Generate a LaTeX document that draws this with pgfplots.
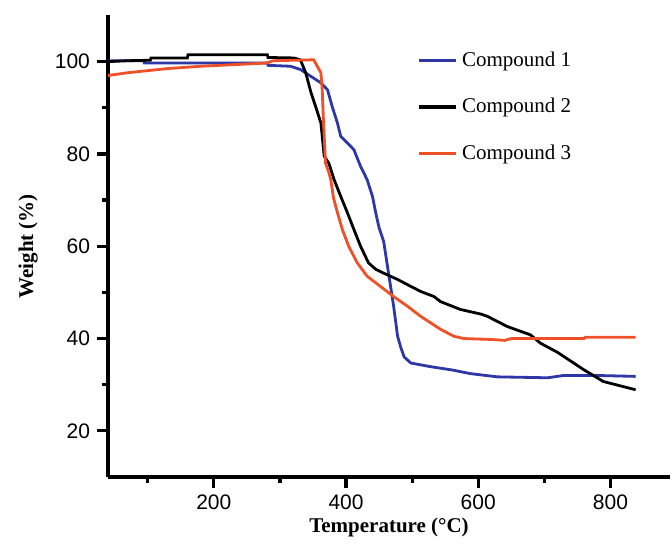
\documentclass[border=0pt]{standalone}
\usepackage{fontspec}
\setmainfont{Liberation Serif}
\newfontfamily\arialfont{Liberation Sans}
\usepackage{pgfplots}
\pgfplotsset{compat=1.18}
\definecolor{cpdblue}{RGB}{45,55,165}
\definecolor{cpdred}{RGB}{240,80,40}

\begin{document}
\begin{tikzpicture}
\useasboundingbox (-54pt,-34pt) rectangle (282pt,238.5pt);
\begin{axis}[
    at={(0,0)}, anchor=south west,
    scale only axis,
    width=281pt, height=230.75pt,
    xmin=40, xmax=890,
    ymin=10, ymax=110,
    axis x line*=bottom,
    axis y line*=left,
    axis line style={line width=1.7pt},
    xtick={200,400,600,800},
    minor xtick={100,300,500,700},
    ytick={20,40,60,80,100},
    minor ytick={30,50,70,90},
    tick align=outside,
    major tick length=5.5pt,
    minor tick length=3pt,
    every tick/.style={black, line width=1.6pt},
    /pgf/number format/assume math mode=true,
    ticklabel style={font=\arialfont\fontsize{10.5}{12}\selectfont},
    xlabel={Temperature (°C)},
    ylabel={Weight (\%)},
    label style={font=\bfseries\fontsize{10.5}{12}\selectfont},
    xlabel style={at={(axis description cs:0.5,-0.11)}, anchor=center},
    ylabel style={at={(axis description cs:-0.142,0.5)}, anchor=center},
    legend style={at={(0.54,0.94)}, anchor=north west, draw=none, fill=none,
        font=\fontsize{10.5}{12}\selectfont, row sep=10.5pt,
        /tikz/every even column/.append style={column sep=2pt}},
    legend cell align=left,
    legend image code/.code={\draw[#1, line width=1.6pt] (0pt,0pt) -- (18.5pt,0pt);},
]
% Compound 1
\addplot[color=cpdblue, line width=1.4pt] coordinates {
    (40,100.2) (94,100.2) (95,99.7) (281,99.7) (282,99.2) (316,99.0)
    (331,98.3) (347,96.8) (362,95.4) (372,93.9) (379,90.3) (387,86.7)
    (392,83.8) (402,82.4) (412,80.9) (422,77.3) (432,74.4) (440,70.8)
    (445,67.2) (450,64) (457,61) (465,53.5) (472,47) (478,40.5)
    (483,38) (488,36) (498,34.7) (528,33.9) (560,33.2) (588,32.4)
    (629,31.7) (705,31.5) (729,32) (780,32) (838,31.8)
};
\addlegendentry{Compound 1}
% Compound 2
\addplot[color=black, line width=1.4pt] coordinates {
    (40,100) (70,100.2) (104,100.3) (105,100.8) (160,100.8) (161,101.5)
    (281,101.5) (282,100.9) (321,100.8) (331,100.4) (339,97.6) (347,93.3)
    (354,90.3) (362,86.7) (367,79.5) (374,78) (382,74.4) (394,70.1)
    (402,67.3) (412,63.6) (422,60) (434,56.4) (445,55) (455,54.3)
    (478,52.8) (498,51.3) (513,50.2) (533,49.1) (543,48) (573,46.3)
    (604,45.3) (614,44.8) (644,42.6) (679,40.8) (694,39) (720,37)
    (759,33.3) (789,30.7) (838,28.9)
};
\addlegendentry{Compound 2}
% Compound 3
\addplot[color=cpdred, line width=1.4pt] coordinates {
    (40,97) (70,97.6) (130,98.5) (180,99) (238,99.4) (280,99.7)
    (290,100.2) (351,100.4) (362,97.6) (364,93.9) (366,86.7) (369,78)
    (374,76) (377,74.4) (381,70.5) (387,67.3) (394.5,63.6) (404,60)
    (417,56.4) (432,53.5) (452,51.3) (472,49.1) (493,47) (513,44.8)
    (543,42) (563,40.5) (578,40) (620,39.8) (640,39.6) (650,40)
    (760,40) (762,40.3) (838,40.3)
};
\addlegendentry{Compound 3}
\end{axis}
\end{tikzpicture}
\end{document}
